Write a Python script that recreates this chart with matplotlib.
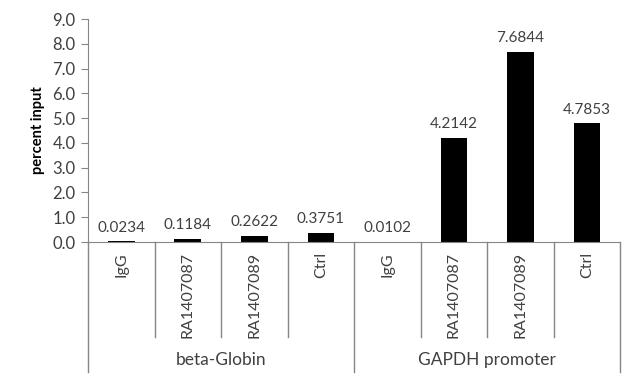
import numpy as np
import matplotlib.pyplot as plt
import matplotlib.transforms as mtransforms

groups = ["beta-Globin", "GAPDH promoter"]
samples = ["IgG", "RA1407087", "RA1407089", "Ctrl"]
beta_globin = [0.0234, 0.1184, 0.2622, 0.3751]
gapdh = [0.0102, 4.2142, 7.6844, 4.7853]
yticks = [0.0, 1.0, 2.0, 3.0, 4.0, 5.0, 6.0, 7.0, 8.0, 9.0]

plt.rcParams['font.family'] = ['Lato', 'DejaVu Sans']
axis_gray = "#868686"
text_gray = "#404040"

values = beta_globin + gapdh
labels = samples * len(groups)
x = np.arange(len(values))

fig = plt.figure(figsize=(6.4, 3.8), dpi=100)
ax = fig.add_axes([0.1375, 0.363, 0.8315, 0.587])

ax.bar(x, values, width=0.4, color="black")
for xi, v in zip(x, values):
    ax.annotate(f"{v:.4f}", (xi, v), xytext=(0, 5), textcoords="offset points",
                ha="center", va="bottom", fontsize=11, color=text_gray)

ax.set_xlim(-0.5, len(values) - 0.5)
ax.set_ylim(0, 9)
ax.set_yticks(yticks)
ax.set_yticklabels([f"{t:.1f}" for t in yticks], fontsize=12, color=text_gray)
ax.tick_params(axis="y", direction="out", length=5, color=axis_gray, pad=4)
ax.set_xticks([])
ax.set_ylabel("percent input", fontsize=10.5, fontweight="bold", color="black", labelpad=5)

for side in ["top", "right"]:
    ax.spines[side].set_visible(False)
for side in ["left", "bottom"]:
    ax.spines[side].set_color(axis_gray)

# hierarchical category axis
trans = mtransforms.blended_transform_factory(ax.transData, ax.transAxes)
n = len(samples)
for b in range(len(values) + 1):
    bottom = -0.583 if b % n == 0 else -0.426
    ax.plot([b - 0.5, b - 0.5], [0, bottom], color=axis_gray, lw=1,
            transform=trans, clip_on=False)
for xi, lab in zip(x, labels):
    ax.text(xi, -0.045, lab, rotation=90, ha="center", va="top", fontsize=11.5,
            color=text_gray, transform=trans)
for gi, g in enumerate(groups):
    ax.text(gi * n + (n - 1) / 2, -0.53, g, ha="center", va="center", fontsize=12.5,
            color=text_gray, transform=trans)

fig.savefig("out.png", dpi=100)
